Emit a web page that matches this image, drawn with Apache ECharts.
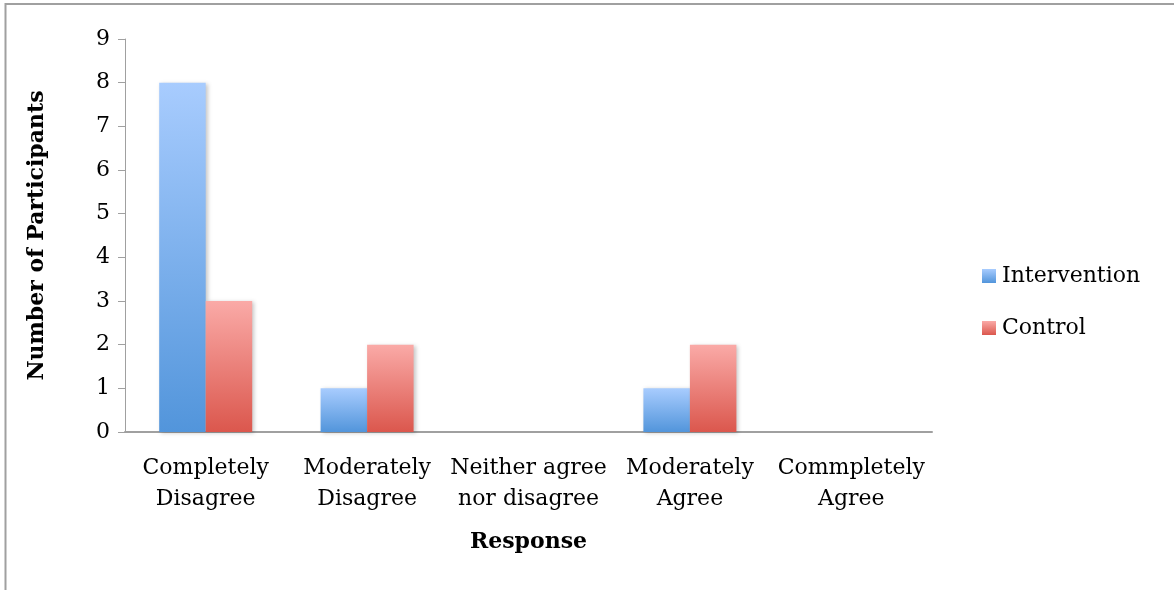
<!DOCTYPE html>
<html>
<head>
<meta charset="utf-8">
<script src="https://cdn.jsdelivr.net/npm/echarts@6/dist/echarts.min.js"></script>
<style>
  html, body { margin: 0; padding: 0; background: #ffffff; }
  #chart { width: 1174px; height: 590px; }
</style>
</head>
<body>
<div id="chart"></div>
<script>
// Survey responses by group
const categories = [
  'Completely\nDisagree',
  'Moderately\nDisagree',
  'Neither agree\nnor disagree',
  'Moderately\nAgree',
  'Commpletely\nAgree'
];
const interventionCounts = [8, 1, 0, 1, 0];
const controlCounts = [3, 2, 0, 2, 0];
const yTicks = [0, 1, 2, 3, 4, 5, 6, 7, 8, 9];

const FONT = '"DejaVu Serif", serif';

function vGrad(top, bottom) {
  return new echarts.graphic.LinearGradient(0, 0, 0, 1, [
    { offset: 0, color: top },
    { offset: 1, color: bottom }
  ]);
}

const barShadow = {
  shadowBlur: 4,
  shadowOffsetX: 2,
  shadowOffsetY: 1,
  shadowColor: 'rgba(0,0,0,0.22)'
};

const chart = echarts.init(document.getElementById('chart'), null, { renderer: 'canvas' });

chart.setOption({
  backgroundColor: '#ffffff',
  animation: false,
  graphic: [{
    type: 'rect',
    shape: { x: 5.5, y: 4, width: 1300, height: 700 },
    style: { fill: 'none', stroke: '#a0a0a0', lineWidth: 2 },
    silent: true
  }],
  grid: { left: 125, top: 39, right: 242, bottom: 158 },
  legend: {
    orient: 'vertical',
    left: 977,
    top: 260,
    icon: 'rect',
    itemWidth: 14,
    itemHeight: 14,
    itemGap: 30,
    textStyle: { fontFamily: FONT, fontSize: 22, color: '#000', padding: [0, 0, 0, 1] },
    data: ['Intervention', 'Control']
  },
  xAxis: {
    type: 'category',
    data: categories,
    name: 'Response',
    nameLocation: 'middle',
    nameGap: 99,
    nameTextStyle: { fontFamily: FONT, fontSize: 22, fontWeight: 'bold', color: '#000' },
    axisLine: { lineStyle: { color: '#a0a0a0', width: 2 } },
    axisTick: { show: false },
    axisLabel: { fontFamily: FONT, fontSize: 22, color: '#000', lineHeight: 31, margin: 21, interval: 0 }
  },
  yAxis: {
    type: 'value',
    min: yTicks[0],
    max: yTicks[yTicks.length - 1],
    interval: 1,
    name: 'Number of Participants',
    nameLocation: 'middle',
    nameGap: 77,
    nameTextStyle: { fontFamily: FONT, fontSize: 22, fontWeight: 'bold', color: '#000' },
    axisLine: { show: true, lineStyle: { color: '#a0a0a0', width: 1 } },
    axisTick: { show: true, length: 7, lineStyle: { color: '#a0a0a0' } },
    splitLine: { show: false },
    axisLabel: { fontFamily: FONT, fontSize: 22, color: '#000', margin: 15 }
  },
  series: [
    {
      name: 'Intervention',
      type: 'bar',
      data: interventionCounts,
      barWidth: 46.5,
      barGap: '0%',
      itemStyle: Object.assign({ color: vGrad('#a8ccfe', '#5295db') }, barShadow)
    },
    {
      name: 'Control',
      type: 'bar',
      data: controlCounts,
      barWidth: 46.5,
      barGap: '0%',
      itemStyle: Object.assign({ color: vGrad('#faaaa7', '#db574d') }, barShadow)
    }
  ]
});
</script>
</body>
</html>
